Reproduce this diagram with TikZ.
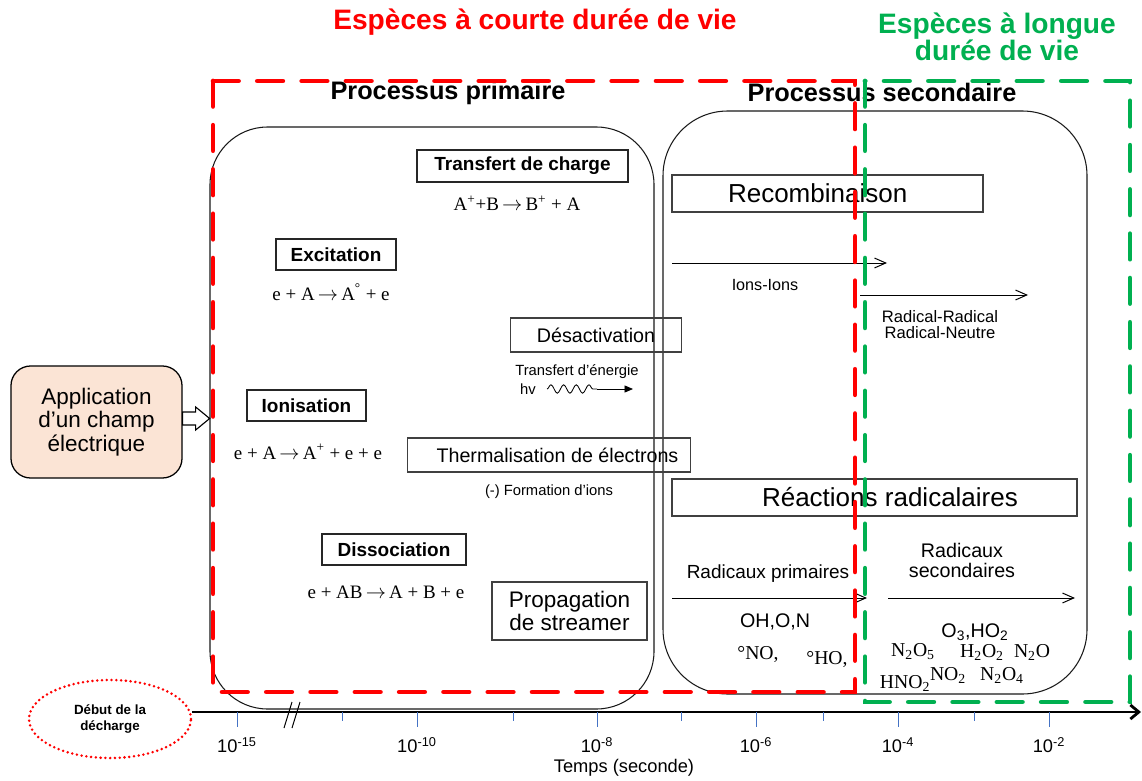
\documentclass[tikz,border=0pt]{standalone}
\usepackage{fontspec}
\setmainfont{Liberation Sans}
\newfontfamily\seriffont{Liberation Serif}
\usetikzlibrary{arrows.meta,decorations.pathmorphing,shapes.geometric}
\definecolor{myred}{RGB}{255,0,0}
\definecolor{mygreen}{RGB}{0,176,80}
\definecolor{peach}{RGB}{251,228,213}
\definecolor{tickblue}{RGB}{68,114,196}
\newcommand{\rarr}{\,$\rightarrow$\,}
\begin{document}
\begin{tikzpicture}[x=0.025cm,y=-0.025cm,
  title/.style={font=\fontsize{20}{19.5}\selectfont\bfseries, align=center, inner sep=0pt},
  proc/.style={font=\fontsize{18}{20}\selectfont\bfseries, inner sep=0pt},
  reddash/.style={draw=myred, line width=3.5pt, line cap=round, dash pattern=on 18pt off 13.5pt},
  greendash/.style={draw=mygreen, line width=3.5pt, line cap=round, dash pattern=on 18pt off 13.5pt},
  rbox/.style={draw=black!90, line width=0.75pt},
  boldbox/.style={draw=black!85, line width=0.9pt, inner sep=0pt, font=\fontsize{13.5}{15}\selectfont\bfseries},
  plainbox/.style={draw=black!75, line width=0.9pt, inner sep=0pt, align=center},
  eqn/.style={font=\fontsize{13.5}{15}\selectfont\seriffont, inner sep=0pt},
  chem/.style={font=\fontsize{14}{16}\selectfont\seriffont, inner sep=0pt},
  small/.style={font=\fontsize{10.5}{12}\selectfont, inner sep=0pt, align=center},
  txt/.style={font=\fontsize{13.5}{14.2}\selectfont, inner sep=0pt, align=center},
  openarr/.style={draw=black, line width=0.7pt, -{Straight Barb[length=8pt,width=7pt]}},
  tickmaj/.style={draw=tickblue, line width=0.6pt},
  ticklab/.style={font=\fontsize{13}{15}\selectfont, inner sep=0pt},
]
\useasboundingbox (0,0) rectangle (1142,781);

% titles
\node[title, text=myred] (tshort) at (535,22) {Espèces à courte durée de vie};
\node[title, text=mygreen] (tlong) at (997,37) {Espèces à longue\\durée de vie};

% process rounded boxes
\draw[rbox, rounded corners=41pt] (210,127) rectangle (654,709);
\draw[rbox, rounded corners=46pt] (663,111) rectangle (1087,694);

\node[proc] (pprim) at (448,93) {Processus primaire};
\node[proc] (psec) at (882,92) {Processus secondaire};

% primary process boxes
\node[boldbox, minimum width=5.275cm, minimum height=0.8cm] (tcharge) at (522.5,166) {Transfert de charge};
\node[eqn] (eq1) at (517,203) {A\textsuperscript{+}+B\rarr B\textsuperscript{+} + A};

\node[boldbox, minimum width=3.0cm, minimum height=0.775cm] (excit) at (336,254.5) {Excitation};
\node[eqn] (eq2) at (331,292) {e + A\rarr A\textsuperscript{°} + e};

\node[plainbox, minimum width=4.275cm, minimum height=0.85cm, font=\fontsize{14}{16}\selectfont] (desact) at (596,335) {Désactivation};
\node[small] (tener) at (577,372) {Transfert d’énergie};
\node[small] (hv) at (528,389) {hv};
\coordinate (w0) at (547,389);
\coordinate (w1) at (597,389);
\coordinate (w2) at (633,389);
\draw[line width=0.6pt, decorate, decoration={snake, segment length=9pt, amplitude=3pt}] (w0) -- (w1);
\draw[line width=0.6pt, -{Triangle[length=6pt,width=5pt]}] (w1) -- (w2);

\node[boldbox, minimum width=2.975cm, minimum height=0.775cm] (ionis) at (306.5,405.5) {Ionisation};
\node[eqn] (eq3) at (308,452) {e + A\rarr A\textsuperscript{+} + e + e};

\node[plainbox, minimum width=7.075cm, minimum height=0.85cm, font=\fontsize{14}{16}\selectfont] (therm) at (549,455) {\hspace*{12pt}Thermalisation de électrons};
\node[small] (form) at (549,492) {(-) Formation d’ions};

\node[boldbox, minimum width=3.6cm, minimum height=0.775cm] (dissoc) at (394,549.5) {Dissociation};
\node[eqn] (eq4) at (386,592) {e + AB\rarr A + B + e};

\node[plainbox, minimum width=3.875cm, minimum height=1.45cm, font=\fontsize{16}{16.5}\selectfont] (propag) at (569.5,611) {Propagation\\de streamer};

% application box
\node[draw=black, line width=0.9pt, fill=peach, rounded corners=14pt, minimum width=4.275cm, minimum height=2.8cm, inner sep=0pt, align=center, font=\fontsize{16}{16.5}\selectfont] (app) at (96.5,422) {Application\\d’un champ\\électrique};
\draw[line width=0.8pt, fill=white] ([yshift=3.5*0.025cm]app.east) ++(0,-6.5) -- ++(13,0) -- ++(0,-5) -- ++(14,11.5) -- ++(-14,11.5) -- ++(0,-5) -- ++(-13,0) -- cycle;

% secondary process
\node[plainbox, minimum width=7.775cm, minimum height=0.925cm, font=\fontsize{18.5}{20}\selectfont] (recomb) at (827.5,193.5) {Recombinaison\hspace*{14pt}};
\coordinate (a1s) at (672,263);
\coordinate (a1e) at (887,263);
\draw[openarr] (a1s) -- (a1e);
\node[font=\fontsize{11.5}{13}\selectfont, inner sep=0pt] (ions) at (765,285) {Ions-Ions};
\coordinate (a2s) at (860,295);
\coordinate (a2e) at (1028,295);
\draw[openarr] (a2s) -- (a2e);
\node[font=\fontsize{11.8}{11.4}\selectfont, inner sep=0pt, align=center] (radrad) at (940,325) {Radical-Radical\\Radical-Neutre};

\node[plainbox, minimum width=10.125cm, minimum height=0.925cm, font=\fontsize{18.5}{20}\selectfont] (reac) at (874.5,497.5) {\hspace*{22pt}Réactions radicalaires};
\node[txt] (radprim) at (768,574) {Radicaux primaires};
\coordinate (a3s) at (672,598);
\coordinate (a3e) at (867,598);
\draw[openarr] (a3s) -- (a3e);
\node[txt, font=\fontsize{14}{14.2}\selectfont] (radsec) at (962,560) {Radicaux\\secondaires};
\coordinate (a4s) at (888,598);
\coordinate (a4e) at (1075,598);
\draw[openarr] (a4s) -- (a4e);

\node[font=\fontsize{14}{16}\selectfont, inner sep=0pt] (ohon) at (775,622) {OH,O,N};
\node[chem] (no) at (758,654) {°NO,};
\node[chem] (ho) at (827,659) {°HO,};
\node[font=\fontsize{14}{16}\selectfont, inner sep=0pt] (o3) at (975,632) {O\textsubscript{3},HO\textsubscript{2}};
\node[chem] (n2o5) at (913,652) {N\textsubscript{2}O\textsubscript{5}};
\node[chem] (h2o2) at (982,652) {H\textsubscript{2}O\textsubscript{2}};
\node[chem] (n2o) at (1032,652) {N\textsubscript{2}O};
\node[chem] (hno2) at (905,683) {HNO\textsubscript{2}};
\node[chem] (no2) at (948,675) {NO\textsubscript{2}};
\node[chem] (n2o4) at (1002,675) {N\textsubscript{2}O\textsubscript{4}};

% dashed frames
\draw[reddash] (213,81) rectangle (855,692);
\draw[greendash] (865,81) rectangle (1130,702);

% time axis
\node[ellipse, draw=myred, line width=2pt, line cap=round, dash pattern=on 0pt off 3.4pt, minimum width=4.05cm, minimum height=1.95cm, inner sep=0pt, align=center, font=\fontsize{9.5}{10.8}\selectfont\bfseries] (debut) at (110,719) {Début de la\\décharge};
\coordinate (axend) at (1141,712);
\draw[line width=2pt, -{Straight Barb[length=6pt,width=10pt]}] (debut.east |- axend) -- (axend);

\foreach \x/\e in {237/-15,417/-10,597/-8,756/-6,898/-4,1049/-2}{
  \draw[tickmaj] (\x,712) -- (\x,727);
  \node[ticklab] at (\x,745) {10\textsuperscript{\e}};
}
\foreach \x in {342,513,681,823,974}{
  \draw[tickmaj] (\x,712) -- (\x,721);
}
\draw[line width=0.7pt] (284,728) -- (292,702);
\draw[line width=0.7pt] (292,728) -- (300,702);
\node[font=\fontsize{13}{15}\selectfont, inner sep=0pt] (temps) at (624,768) {Temps (seconde)};
\end{tikzpicture}
\end{document}
